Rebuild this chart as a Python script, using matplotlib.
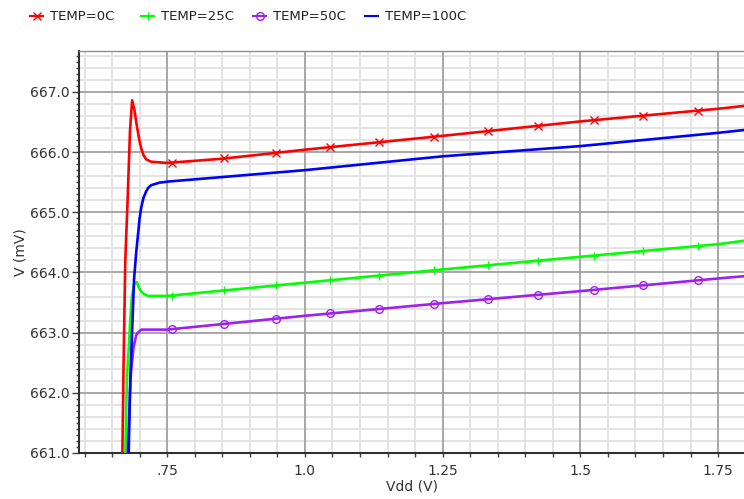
import numpy as np
import matplotlib
matplotlib.use("Agg")
import matplotlib.pyplot as plt
from matplotlib.ticker import MultipleLocator, FixedLocator, FixedFormatter
from matplotlib.lines import Line2D

plt.rcParams['font.family'] = ['DejaVu Sans']

# ---- data (Vdd in V, V in mV) ----
labels = ["TEMP=0C", "TEMP=25C", "TEMP=50C", "TEMP=100C"]
colors = ["#ff0000", "#00ff00", "#a020f0", "#0000ff"]
markers = ["x", "+", "o", None]

vdd_0c = [0.668, 0.671, 0.674, 0.678, 0.6826, 0.6864, 0.6907, 0.6935, 0.697, 0.700, 0.703,
          0.707, 0.712, 0.721, 0.75, 0.85, 1.0, 1.25, 1.5, 1.75, 1.80]
v_0c = [660.5, 662.54, 664.2, 665.15, 666.36, 666.86, 666.70, 666.52, 666.33, 666.18, 666.06,
        665.95, 665.88, 665.84, 665.82, 665.89, 666.04, 666.27, 666.51, 666.72, 666.77]

vdd_25c = [0.673, 0.677, 0.680, 0.683, 0.686, 0.690, 0.695, 0.699, 0.703, 0.708, 0.715, 0.75,
           1.0, 1.25, 1.5, 1.75, 1.80]
v_25c = [660.5, 662.27, 662.7, 663.2, 663.6, 663.8, 663.84, 663.74, 663.68, 663.64, 663.61, 663.61,
         663.83, 664.05, 664.26, 664.47, 664.53]

vdd_50c = [0.676, 0.684, 0.689, 0.694, 0.697, 0.703, 0.75,
           1.0, 1.25, 1.5, 1.75, 1.80]
v_50c = [660.5, 662.3, 662.76, 662.96, 663.0, 663.05, 663.05,
         663.28, 663.49, 663.69, 663.90, 663.94]

vdd_100c = [0.679, 0.683, 0.690, 0.694, 0.697, 0.700, 0.703, 0.707, 0.712, 0.716, 0.721, 0.735, 0.751,
            1.0, 1.25, 1.5, 1.75, 1.80]
v_100c = [660.5, 662.2, 663.9, 664.35, 664.62, 664.9, 665.08, 665.24, 665.35, 665.41, 665.45, 665.49, 665.51,
          665.70, 665.93, 666.10, 666.32, 666.37]

marker_vdd = [0.758, 0.854, 0.948, 1.046, 1.134, 1.234, 1.333, 1.424, 1.525, 1.614, 1.713]

series = [(vdd_0c, v_0c), (vdd_25c, v_25c), (vdd_50c, v_50c), (vdd_100c, v_100c)]

xticks = [0.75, 1.0, 1.25, 1.5, 1.75]
xtick_labels = [".75", "1.0", "1.25", "1.5", "1.75"]
yticks = [661.0, 662.0, 663.0, 664.0, 665.0, 666.0, 667.0]
ytick_labels = ["661.0", "662.0", "663.0", "664.0", "665.0", "666.0", "667.0"]

# ---- figure ----
fig = plt.figure(figsize=(7.44, 4.99), dpi=100)
ax = fig.add_axes([79 / 744, 46 / 499, 665 / 744, 402 / 499])
xlo, xhi = 0.590, 1.797
ylo, yhi = 661.0, 667.68
ax.set_xlim(xlo, xhi)
ax.set_ylim(ylo, yhi)

# grid
for yv in np.arange(661.0, 667.8, 0.2):
    if abs(yv - round(yv)) > 1e-6:
        ax.axhline(yv, color="#e2e2e2", lw=1.3, zorder=0)
for xv in np.arange(0.55, 1.85, 0.05):
    if abs(xv * 4 - round(xv * 4)) > 1e-6:
        ax.axvline(xv, color="#e2e2e2", lw=1.3, zorder=0)
for yv in yticks:
    ax.axhline(yv, color="#a0a0a0", lw=1.3, zorder=0.5)
for xv in xticks:
    ax.axvline(xv, color="#a0a0a0", lw=1.3, zorder=0.5)

handles = []
for (xs, ys), c, m, lab in zip(series, colors, markers, labels):
    ax.plot(xs, ys, color=c, lw=1.9, zorder=3, solid_joinstyle="round")
    if m is not None:
        my = np.interp(marker_vdd, xs, ys)
        if m == "o":
            ax.plot(marker_vdd, my, ls="none", marker=m, ms=5.5, mfc="none",
                    mec=c, mew=1.0, zorder=4)
        else:
            ax.plot(marker_vdd, my, ls="none", marker=m, ms=5.5, mec=c, mew=1.0, zorder=4)
    h = Line2D([], [], color=c, lw=1.5, marker=m, ms=5.5,
               mfc="none" if m == "o" else c, mec=c, mew=1.0)
    handles.append(h)

# ticks
ax.xaxis.set_major_locator(FixedLocator(xticks))
ax.xaxis.set_major_formatter(FixedFormatter(xtick_labels))
ax.xaxis.set_minor_locator(MultipleLocator(0.05))
ax.yaxis.set_major_locator(FixedLocator(yticks))
ax.yaxis.set_major_formatter(FixedFormatter(ytick_labels))
ax.yaxis.set_minor_locator(MultipleLocator(0.1))
ax.tick_params(axis="y", which="major", direction="out", length=5, width=1,
               color="#404040", labelsize=10, labelcolor="#333333", pad=1.5)
ax.tick_params(axis="y", which="minor", direction="out", length=2.5, width=1, color="#404040")
ax.tick_params(axis="x", which="major", direction="out", length=3, width=1,
               color="#404040", labelsize=10, labelcolor="#333333", pad=5)
ax.tick_params(axis="x", which="minor", direction="out", length=3, width=1, color="#404040")

for s in ["left", "bottom"]:
    ax.spines[s].set_color("#303030")
    ax.spines[s].set_linewidth(1.5)
ax.spines["top"].set_color("#909090")
ax.spines["top"].set_linewidth(1.0)
ax.spines["right"].set_visible(False)

ax.set_xlabel("Vdd (V)", fontsize=10, color="#333333", labelpad=1)
ax.set_ylabel("V (mV)", fontsize=10, color="#333333", labelpad=2)

# legend entries
leg_x = [30 / 744, 141 / 744, 253 / 744, 365 / 744]
for h, lab, lx in zip(handles, labels, leg_x):
    lg = fig.legend([h], [lab], loc="center left", bbox_to_anchor=(lx, 1 - 17 / 499),
                    frameon=False, fontsize=9.5, handlelength=1.0, handletextpad=0.5,
                    borderpad=0, borderaxespad=0)
    for t in lg.get_texts():
        t.set_color("#222222")

fig.savefig("out.png", dpi=100)
